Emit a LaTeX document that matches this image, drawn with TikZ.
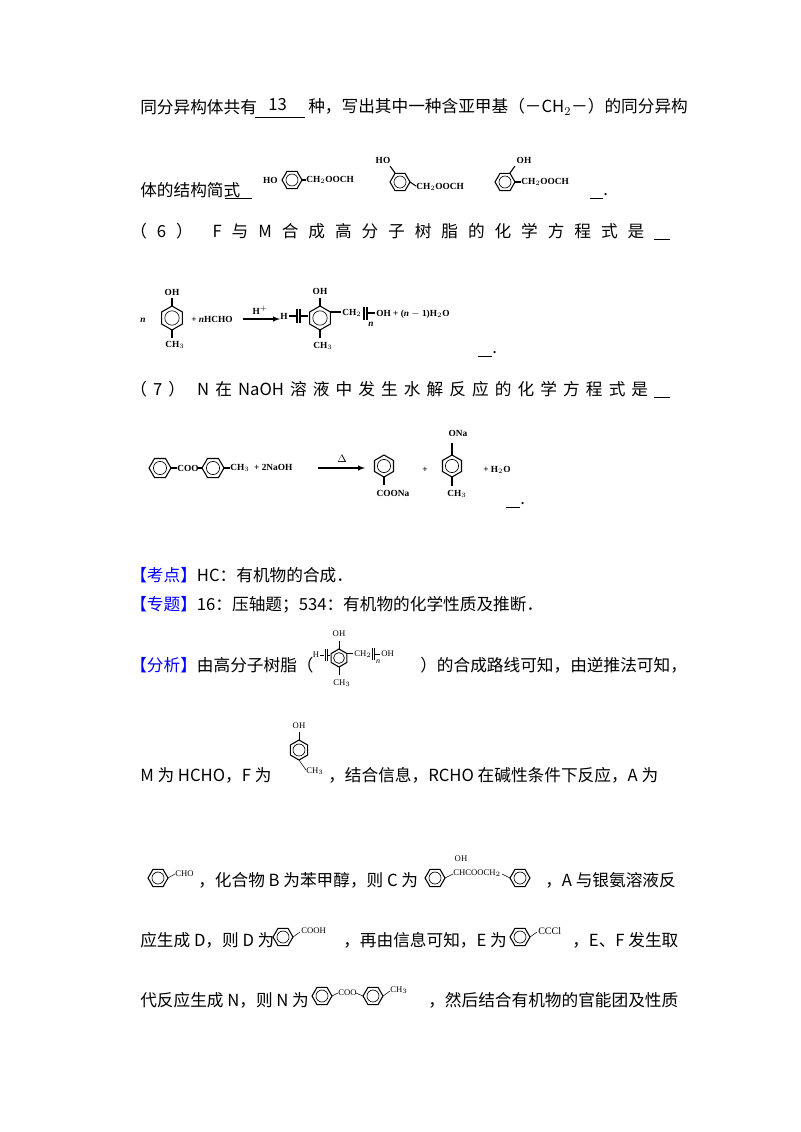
\documentclass[tikz,border=0pt]{standalone}
\usepackage{fontspec}
\setmainfont{Liberation Serif}
\newfontfamily\cjk{Noto Sans CJK SC}
\begin{document}
\begin{tikzpicture}[x=0.75pt,y=-0.75pt,
 t/.style={anchor=west,inner sep=0pt,font=\cjk\fontsize{12.5}{15}\selectfont},
 c/.style={inner sep=0pt,font=\bfseries\fontsize{7}{8}\selectfont},
 s/.style={inner sep=0pt,font=\fontsize{6.5}{7}\selectfont},
 hz/.pic={\draw[line width=0.8pt] (0:1)--(60:1)--(120:1)--(180:1)--(240:1)--(300:1)--cycle; \draw[line width=0.5pt] (0,0) circle (0.6);},
 vt/.pic={\draw[line width=0.8pt] (30:1)--(90:1)--(150:1)--(210:1)--(270:1)--(330:1)--cycle; \draw[line width=0.5pt] (0,0) circle (0.6);},
 bl/.style={line width=0.8pt}]
\useasboundingbox[fill=white] (0,0) rectangle (800,1132);
% line 1
\node[t] (l1a) at (140,107) {同分异构体共有};
\node[t] (l1b) at (268,105) {13};
\draw (255,117) -- (305,117);
\node[t] (l1c) at (308,107) {种，写出其中一种含亚甲基（－CH$_2$－）的同分异构};
% line 2
\node[t] (l2a) at (140,190) {体的结构简式};
\draw (225,198)--(252,198);
\node[c,anchor=east] (h1) at (278,180) {HO};
\pic[scale=10] at (292,180) {hz};
\draw[bl] (302,180)--(306,180);
\node[c,anchor=west] (s1) at (306,180) {CH$_2$OOCH};
\pic[scale=10] at (400,182) {hz};
\draw[bl] (395,173)--(390,166);
\node[c] (h2) at (383,160) {HO};
\draw[bl] (410,182)--(416,186);
\node[c,anchor=west] (s2) at (416,187) {CH$_2$OOCH};
\pic[scale=10] at (505,182) {hz};
\draw[bl] (510,173)--(515,166);
\node[c] (h3) at (524,160) {OH};
\draw[bl] (515,182)--(521,182);
\node[c,anchor=west] (s3) at (521,182) {CH$_2$OOCH};
\draw (590,198)--(603,198);
\node[t] (d2) at (603,195) {.};
% line 3
\node[t] (l3b) at (130,232) {\makebox[405pt][s]{（\hfil 6\hfil ）\hfil\hfil F\hfil 与\hfil M\hfil 合\hfil 成\hfil 高\hfil 分\hfil 子\hfil 树\hfil 脂\hfil 的\hfil 化\hfil 学\hfil 方\hfil 程\hfil 式\hfil 是\hfil \underline{\hspace{12pt}}}};
% eq 6
\node[c] (n1) at (143,320) {\itshape n};
\pic[scale=12] at (172,318) {vt};
\draw[bl] (172,306)--(172,298);
\node[c] (o1) at (172,292) {OH};
\draw[bl] (172,330)--(172,338);
\node[c] (m1) at (175,345) {CH$_3$};
\node[c] (hc) at (212,319) {+ \itshape n\upshape HCHO};
\draw[bl,-latex] (243,319)--(280,319);
\node[c] (hp) at (260,310) {H$^+$};
\node[c] (hh) at (284,316) {H};
\draw[bl] (289,316)--(296,316);
\draw[bl] (297,309)--(297,323) (300,309)--(300,323);
\draw[bl] (300,316)--(308,316);
\pic[scale=12] at (320,318) {vt};
\draw[bl] (320,306)--(320,298);
\node[c] (o2) at (320,291) {OH};
\draw[bl] (320,330)--(320,338);
\node[c] (m2) at (323,346) {CH$_3$};
\draw[bl] (330,312)--(341,312);
\node[c,anchor=west] (ch2) at (342,313) {CH$_2$};
\draw[bl] (364,307)--(364,320) (367,307)--(367,320);
\node[c] (nn) at (371,324) {\itshape n};
\draw[bl] (367,313)--(375,313);
\node[c,anchor=west] (o3) at (376,314) {OH + (\itshape n\upshape{} $-$ 1)H$_2$O};
\draw (478,356)--(492,356);
\node[t] (d3) at (492,353) {.};
% line 4
\node[t] (l4) at (130,390) {\makebox[405pt][s]{（\hfil 7\hfil ）\hfil\hfil N\hfil 在\hfil NaOH\hfil 溶\hfil 液\hfil 中\hfil 发\hfil 生\hfil 水\hfil 解\hfil 反\hfil 应\hfil 的\hfil 化\hfil 学\hfil 方\hfil 程\hfil 式\hfil 是\hfil \underline{\hspace{12pt}}}};
% eq 7
\pic[scale=11] at (160,468) {hz};
\draw[bl] (171,468)--(177,468);
\node[c,anchor=west] (coo) at (177,468) {COO};
\draw[bl] (197,468)--(202,468);
\pic[scale=11] at (213,468) {hz};
\draw[bl] (224,468)--(230,468);
\node[c,anchor=west] (me) at (230,468) {CH$_3$ \ + 2NaOH};
\draw[bl,-latex] (318,468)--(365,468);
\node[c,font=\normalfont\fontsize{8}{9}\selectfont] (dl) at (342,459) {$\Delta$};
\pic[scale=11] at (384,466) {vt};
\draw[bl] (384,477)--(384,485);
\node[c] (cn) at (393,493) {COONa};
\node[c] (pl) at (425,470) {+};
\pic[scale=11] at (452,466) {vt};
\draw[bl] (452,455)--(452,443);
\node[c] (on) at (458,433) {ONa};
\draw[bl] (452,477)--(452,486);
\node[c] (m3) at (457,494) {CH$_3$};
\node[c] (hw) at (497,470) {+ H$_2$O};
\draw (506,507)--(520,507);
\node[t] (d4) at (520,504) {.};
% kaodian
\node[t] (k1) at (130,575) {\textcolor{blue}{【考点】}HC：有机物的合成．};
\node[t] (k2) at (130,605) {\textcolor{blue}{【专题】}16：压轴题；534：有机物的化学性质及推断．};
% fenxi
\node[t] (f1) at (130,665) {\textcolor{blue}{【分析】}由高分子树脂（};
\begin{scope}[xshift=9]
\node[s] (fh) at (304,655) {H};
\draw (308,655)--(312,655) (313,649)--(313,661) (315,649)--(315,661) (315,655)--(318,655);
\pic[scale=9] at (327,658) {vt};
\draw (327,649)--(327,641);
\node[s] (fo) at (327,634) {OH};
\draw (327,667)--(327,675);
\node[s] (fm) at (330,683) {CH$_3$};
\draw (335,653)--(341,653);
\node[s,anchor=west] (fc) at (342,654) {CH$_2$};
\draw (360,648)--(360,660) (362,648)--(362,660) (362,654)--(368,654);
\node[s,font=\itshape\fontsize{6}{7}\selectfont] (fn) at (366,662) {n};
\node[s,anchor=west] (fo2) at (369,654) {OH};
\end{scope}
\node[t] (f2) at (420,665) {）的合成路线可知，由逆推法可知，};
% M line
\node[t] (m1t) at (140,775) {M 为 HCHO，F 为};
\pic[scale=10] at (299,750) {vt};
\draw (299,740)--(299,732);
\node[s] (mo) at (299,726) {OH};
\draw (299,760)--(306,770);
\node[s,anchor=west] (mc) at (306,771) {CH$_3$};
\node[t] (m2t) at (328,775) {，结合信息，RCHO 在碱性条件下反应，A 为};
% A line
\pic[scale=10] at (158,878) {hz};
\draw (168,878)--(175,874);
\node[s,anchor=west] (ac) at (175,874) {CHO};
\node[t] (a1) at (198,880) {，化合物 B 为苯甲醇，则 C 为};
\pic[scale=10] at (435,878) {hz};
\draw (445,878)--(453,874);
\node[s] (co) at (461,859) {OH};
\node[s,anchor=west] (cc) at (453,873) {CHCOOCH$_2$};
\draw (502,874)--(510,878);
\pic[scale=10] at (520,878) {hz};
\node[t] (a2) at (545,880) {，A 与银氨溶液反};
% D line
\node[t] (dd) at (140,940) {应生成 D，则 D 为};
\pic[scale=10] at (283,937) {hz};
\draw (293,937)--(300,932);
\node[s,anchor=west] (dc) at (301,931) {COOH};
\node[t] (d2t) at (343,940) {，再由信息可知，E 为};
\pic[scale=10] at (520,937) {hz};
\draw (530,937)--(537,932);
\node[s,font=\fontsize{7.5}{8}\selectfont,anchor=west] (ec) at (538,931) {CCCl};
\node[t] (d3t) at (572,940) {，E、F 发生取};
% N line
\node[t] (nt) at (140,1000) {代反应生成 N，则 N 为};
\pic[scale=10] at (322,996) {hz};
\draw (332,996)--(338,993);
\node[s,anchor=west] (nc) at (338,993) {COO};
\draw (356,993)--(363,996);
\pic[scale=10] at (373,996) {hz};
\draw (383,996)--(390,991);
\node[s,anchor=west] (nm) at (390,990) {CH$_3$};
\node[t] (n2t) at (428,1000) {，然后结合有机物的官能团及性质};
\end{tikzpicture}
\end{document}
